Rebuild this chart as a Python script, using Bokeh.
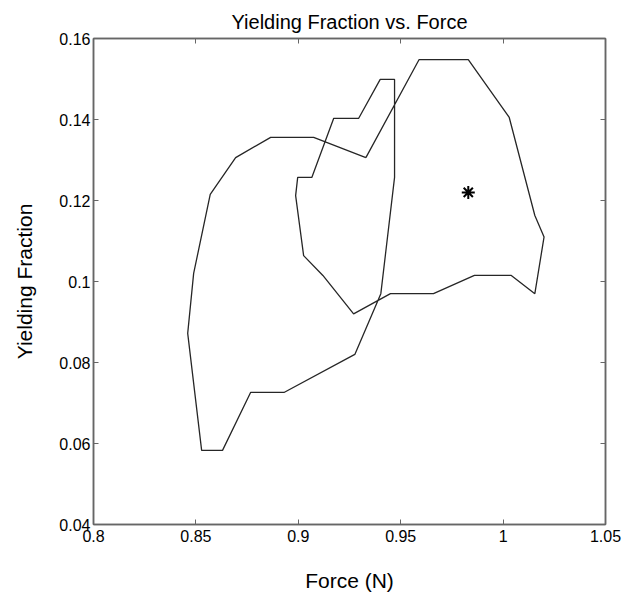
from bokeh.plotting import figure
from bokeh.models import LinearAxis, FixedTicker, Range1d
from bokeh.embed import file_html
from bokeh.resources import INLINE

# Boundary of the yielding region (closed, self-crossing loop)
force = [0.933, 0.959, 0.983, 1.003, 1.0155, 1.020, 1.0155, 1.004, 0.986, 0.966,
         0.945, 0.927, 0.912, 0.9026, 0.8987, 0.8997, 0.9066, 0.9173, 0.9295, 0.940,
         0.947, 0.947, 0.9403, 0.9276, 0.893, 0.8767, 0.863, 0.8528, 0.846, 0.8489,
         0.857, 0.8694, 0.8865, 0.9075, 0.933]
fraction = [0.1306, 0.1548, 0.1548, 0.1405, 0.1163, 0.111, 0.097, 0.1015, 0.1015, 0.097,
            0.097, 0.092, 0.1015, 0.1064, 0.1212, 0.1257, 0.1257, 0.1403, 0.1403, 0.1499,
            0.1499, 0.1257, 0.097, 0.082, 0.0726, 0.0726, 0.0583, 0.0583, 0.0872, 0.102,
            0.1215, 0.1306, 0.1356, 0.1356, 0.1306]

# Marked point
star_force = [0.983]
star_fraction = [0.122]

x_ticks = [0.8, 0.85, 0.9, 0.95, 1.0, 1.05]
x_tick_labels = ["0.8", "0.85", "0.9", "0.95", "1", "1.05"]
y_ticks = [0.04, 0.06, 0.08, 0.10, 0.12, 0.14, 0.16]
y_tick_labels = ["0.04", "0.06", "0.08", "0.1", "0.12", "0.14", "0.16"]

FONT = "Liberation Sans"
AXC = "#666666"

p = figure(width=622, height=598, output_backend="svg", toolbar_location=None,
           x_range=Range1d(0.8, 1.05), y_range=Range1d(0.04, 0.16),
           min_border_left=93, min_border_right=17, min_border_top=38, min_border_bottom=74,
           title="Yielding Fraction vs. Force")
p.title.align = "center"
p.title.vertical_align = "top"
p.title.text_font = FONT
p.title.text_font_size = "20px"
p.title.text_font_style = "normal"
p.title.text_color = "black"
p.title.standoff = 8

p.grid.visible = False
p.outline_line_color = AXC
p.outline_line_width = 1.5

def style_axis(ax, ticks, labels, show_labels=True):
    ax.ticker = FixedTicker(ticks=ticks)
    ax.major_label_overrides = {t: l for t, l in zip(ticks, labels)}
    ax.minor_tick_line_color = None
    ax.major_tick_in = 5
    ax.major_tick_out = 0
    ax.major_tick_line_color = AXC
    ax.axis_line_color = AXC
    ax.axis_line_width = 1.5
    ax.major_label_text_font = FONT
    ax.major_label_text_font_size = "16px" if show_labels else "0px"
    ax.major_label_text_color = "black"
    ax.major_label_standoff = 3
    ax.axis_label_text_font = FONT
    ax.axis_label_text_font_style = "normal"
    ax.axis_label_text_color = "black"
    ax.axis_label_text_font_size = "21px"

style_axis(p.xaxis[0], x_ticks, x_tick_labels)
style_axis(p.yaxis[0], y_ticks, y_tick_labels)
p.xaxis[0].axis_label = "Force (N)"
p.xaxis[0].axis_label_standoff = 24
p.xaxis[0].major_label_standoff = 5
p.yaxis[0].axis_label = "Yielding Fraction"
p.yaxis[0].axis_label_standoff = 20

top = LinearAxis()
style_axis(top, x_ticks, ["" for _ in x_ticks], show_labels=False)
p.add_layout(top, "above")
right = LinearAxis()
style_axis(right, y_ticks, ["" for _ in y_ticks], show_labels=False)
p.add_layout(right, "right")

p.line(force, fraction, line_color="#262626", line_width=1.3)
p.scatter(star_force, star_fraction, marker="asterisk", size=13, line_width=2,
          line_color="black")

open("out.html", "w").write(file_html(p, INLINE))
